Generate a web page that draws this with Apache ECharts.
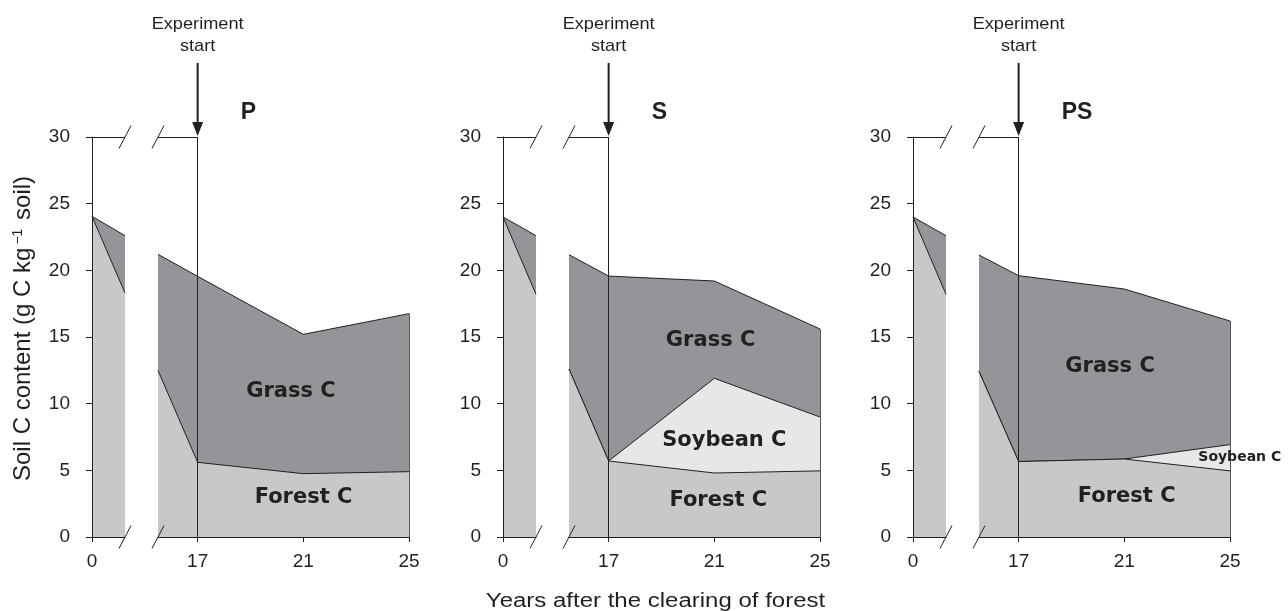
<!DOCTYPE html>
<html>
<head>
<meta charset="utf-8">
<script src="https://cdn.jsdelivr.net/npm/echarts@6/dist/echarts.min.js"></script>
<style>
html,body{margin:0;padding:0;background:#fff;}
#c{width:1288px;height:611px;}
</style>
</head>
<body>
<div id="c"></div>
<script>
// ---------------- DATA ----------------
const panelNames = ['P', 'S', 'PS'];
// x positions (years) of the early piece (before the axis break) and late piece
const leftYears  = [0, 1.25];
const rightYears = [15.5, 17, 21, 25];
const leftTickYears  = [0];
const rightTickYears = [17, 21, 25];
const yTickStep = 5;

// Panel P  (component C contents, g C kg-1 soil)
const forestLeftP  = [24.05, 18.3];
const grassLeftP   = [0, 4.3];
const forestRightP = [12.5, 5.6, 4.75, 4.9];
const grassRightP  = [8.7, 13.95, 10.45, 11.85];

// Panel S
const forestLeftS  = [24.0, 18.2];
const grassLeftS   = [0, 4.4];
const forestRightS = [12.6, 5.7, 4.8, 4.96];
const soyRightS    = [0, 0, 7.1, 4.04];
const grassRightS  = [8.57, 13.87, 7.3, 6.6];

// Panel PS
const forestLeftPS  = [24.0, 18.2];
const grassLeftPS   = [0, 4.4];
const forestRightPS = [12.42, 5.66, 5.85, 4.96];
const soyRightPS    = [0, 0, 0, 1.97];
const grassRightPS  = [8.73, 13.94, 12.75, 9.27];

const experimentYear = 17;

// ---------------- LAYOUT / STYLE ----------------
const INK = '#231f20';
const FOREST = '#c7c8ca';
const GRASS = '#939598';
const SOY = '#e6e7e8';
const FONT = "'Liberation Sans', Arial, sans-serif";
const HAND = "'Comic Sans MS', 'DejaVu Sans', sans-serif";

const axisX = [92, 503, 913];
const gridTop = 137, gridH = 400;

// label anchors (data coordinates in the late-piece grid)
const regionLabels = [
  [['Grass C', 20.53, 10.88, 21, 'center'], ['Forest C', 21.01, 2.93, 21, 'center']],
  [['Grass C', 20.86, 14.73, 21, 'center'], ['Soybean C', 21.38, 7.26, 21, 'center'], ['Forest C', 21.15, 2.77, 21, 'center']],
  [['Grass C', 20.46, 12.8, 21, 'center'], ['Forest C', 21.09, 3.02, 21, 'center'], ['Soybean C', 23.8, 5.95, 14, 'left']]
];

const panels = [
  {name: panelNames[0], fL: forestLeftP,  gL: grassLeftP,  fR: forestRightP,  sR: null,        gR: grassRightP},
  {name: panelNames[1], fL: forestLeftS,  gL: grassLeftS,  fR: forestRightS,  sR: soyRightS,   gR: grassRightS},
  {name: panelNames[2], fL: forestLeftPS, gL: grassLeftPS, fR: forestRightPS, sR: soyRightPS,  gR: grassRightPS}
];

const zip = (xs, ys) => xs.map((x, k) => [x, ys[k]]);
const addArr = (...arrs) => arrs[0].map((_, k) => arrs.reduce((s, a) => s + (a ? a[k] : 0), 0));

function xAxisCfg(gi, min, max, ticks) {
  return {
    gridIndex: gi, type: 'value', min: min, max: max, z: 6,
    axisLine: {show: true, onZero: false, lineStyle: {color: INK, width: 1}},
    axisTick: {show: true, length: 5, customValues: ticks, lineStyle: {color: INK, width: 1}},
    axisLabel: {show: true, customValues: ticks, color: INK, fontSize: 19, fontFamily: FONT, margin: 15},
    splitLine: {show: false}
  };
}

const mlBase = {silent: true, symbol: 'none', animation: false, label: {show: false},
  emphasis: {disabled: true}, lineStyle: {type: 'solid', color: INK, width: 1}};

// layered areas: each layer is the cumulative top of the components below it,
// filled down to zero; upper layers are drawn underneath lower ones.
function areaSeries(gi, data, color, z, extra) {
  return Object.assign({
    type: 'line', xAxisIndex: gi, yAxisIndex: gi, data: data,
    symbol: 'none', showSymbol: false, z: z, silent: true,
    lineStyle: {color: INK, width: 1},
    areaStyle: {color: color, opacity: 1, origin: 'start'},
    emphasis: {disabled: true}
  }, extra || {});
}

function slashSeries(gi, xv) {
  return {
    type: 'custom', xAxisIndex: gi, yAxisIndex: gi, z: 10, silent: true, clip: false,
    data: [[xv, 0], [xv, 30]],
    renderItem: function (params, api) {
      const p = api.coord([api.value(0), api.value(1)]);
      return {type: 'line', shape: {x1: p[0] - 6, y1: p[1] + 11.5, x2: p[0] + 6, y2: p[1] - 11.5},
        style: {stroke: INK, lineWidth: 1}};
    }
  };
}

const grids = [], xAxes = [], yAxes = [], series = [];
panels.forEach((p, i) => {
  const ax = axisX[i];
  const gl = 2 * i, gr = 2 * i + 1;
  grids.push({left: ax, top: gridTop, width: 33, height: gridH});
  grids.push({left: ax + 66, top: gridTop, width: 251, height: gridH});
  xAxes.push(xAxisCfg(gl, leftYears[0], leftYears[leftYears.length - 1], leftTickYears));
  xAxes.push(xAxisCfg(gr, rightYears[0], rightYears[rightYears.length - 1], rightTickYears));
  yAxes.push({gridIndex: gl, type: 'value', min: 0, max: 30, interval: yTickStep, z: 6,
    axisLine: {show: true, lineStyle: {color: INK, width: 1}},
    axisTick: {show: true, length: 6, lineStyle: {color: INK, width: 1}},
    axisLabel: {color: INK, fontSize: 19, fontFamily: FONT, margin: 22},
    splitLine: {show: false}});
  yAxes.push({gridIndex: gr, type: 'value', min: 0, max: 30, show: false});

  const xl0 = leftYears[0], xl1 = leftYears[leftYears.length - 1];
  const xr0 = rightYears[0], xrN = rightYears[rightYears.length - 1];

  // early piece
  const totL = addArr(p.fL, p.gL);
  series.push(areaSeries(gl, zip(leftYears, totL), GRASS, 2, {
    markLine: Object.assign({}, mlBase, {data: [[{coord: [xl0, 30]}, {coord: [xl1, 30]}]]})
  }));
  series.push(areaSeries(gl, zip(leftYears, p.fL), FOREST, 4));

  // late piece
  const totR = addArr(p.fR, p.sR, p.gR);
  const last = rightYears.length - 1;
  series.push(areaSeries(gr, zip(rightYears, totR), GRASS, 2));
  if (p.sR) series.push(areaSeries(gr, zip(rightYears, addArr(p.fR, p.sR)), SOY, 3));
  series.push(areaSeries(gr, zip(rightYears, p.fR), FOREST, 4, {
    markLine: Object.assign({}, mlBase, {data: [
      [{coord: [experimentYear, 0]}, {coord: [experimentYear, 30]}],
      [{coord: [xr0, 30]}, {coord: [experimentYear, 30]}],
      [{coord: [xrN, 0], lineStyle: {color: '#58595b', width: 1}}, {coord: [xrN, totR[last]]}]
    ]})
  }));
  // break marks
  series.push(slashSeries(gl, xl1));
  series.push(slashSeries(gr, xr0));
});

const chart = echarts.init(document.getElementById('c'), null, {renderer: 'canvas'});
chart.setOption({
  animation: false,
  backgroundColor: '#ffffff',
  grid: grids, xAxis: xAxes, yAxis: yAxes, series: series
});

// ---------------- annotations ----------------
const g = [];
panels.forEach((p, i) => {
  const gr = 2 * i + 1;
  const top = chart.convertToPixel({gridIndex: gr}, [experimentYear, 30]);
  const x = top[0];
  g.push({type: 'text', x: x, y: 35.5, scaleX: 1.07, silent: true,
    style: {text: 'Experiment\nstart', fontSize: 17, fontFamily: FONT, fill: INK,
      align: 'center', textAlign: 'center', verticalAlign: 'middle', textVerticalAlign: 'middle', lineHeight: 21.5}});
  g.push({type: 'line', silent: true, shape: {x1: x, y1: 63, x2: x, y2: 124}, style: {stroke: INK, lineWidth: 2}});
  g.push({type: 'polygon', silent: true, shape: {points: [[x - 5.5, 122], [x + 5.5, 122], [x, 136]]}, style: {fill: INK}});
  g.push({type: 'text', x: x + 43, y: 113, silent: true,
    style: {text: p.name, fontSize: 23, fontWeight: 'bold', fontFamily: FONT, fill: INK,
      align: 'left', textAlign: 'left', verticalAlign: 'middle', textVerticalAlign: 'middle'}});
  regionLabels[i].forEach(l => {
    const pt = chart.convertToPixel({gridIndex: gr}, [l[1], l[2]]);
    g.push({type: 'text', x: pt[0], y: pt[1], silent: true, z: 20,
      style: {text: l[0], fontSize: l[3], fontWeight: 'bold', fontFamily: HAND, fill: INK,
        align: l[4], textAlign: l[4], verticalAlign: 'middle', textVerticalAlign: 'middle'}});
  });
});
g.push({type: 'text', x: 655.5, y: 601, scaleX: 1.2, silent: true,
  style: {text: 'Years after the clearing of forest', fontSize: 20, fontFamily: FONT, fill: INK,
    align: 'center', textAlign: 'center', verticalAlign: 'middle', textVerticalAlign: 'middle'}});
g.push({type: 'text', x: 23, y: 328.5, rotation: Math.PI / 2, silent: true,
  style: {text: 'Soil C content (g C kg{sup|\u22121} soil)', fontSize: 24, fontFamily: FONT, fill: INK,
    align: 'center', textAlign: 'center', verticalAlign: 'middle', textVerticalAlign: 'middle',
    rich: {sup: {fontSize: 14, fontFamily: FONT, fill: INK, verticalAlign: 'top', padding: [0, 2, 0, 3]}}}});
chart.setOption({graphic: g});
</script>
</body>
</html>
